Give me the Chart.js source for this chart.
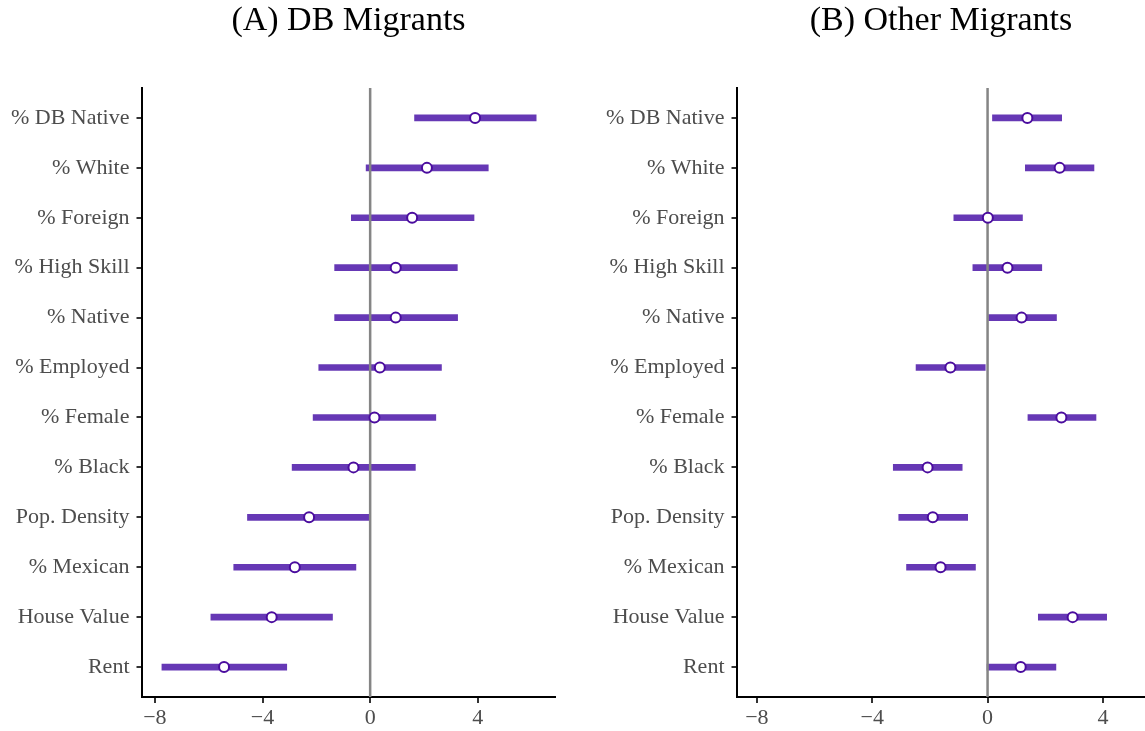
<!DOCTYPE html>
<html>
<head>
<meta charset="utf-8">
<script src="https://cdn.jsdelivr.net/npm/chart.js@4.4.1/dist/chart.umd.min.js"></script>
<style>
  html, body { margin: 0; padding: 0; background: #fff; }
  body { width: 1145px; height: 731px; position: relative; overflow: hidden; }
  .panel { position: absolute; top: 0; height: 731px; }
</style>
</head>
<body>
<div class="panel" style="left:0;width:572px"><canvas id="chartA"></canvas></div>
<div class="panel" style="left:572px;width:573px"><canvas id="chartB"></canvas></div>
<script>
// ---- data ----
const categories = ["% DB Native", "% White", "% Foreign", "% High Skill", "% Native", "% Employed",
                    "% Female", "% Black", "Pop. Density", "% Mexican", "House Value", "Rent"];
const xTicks = [-8, -4, 0, 4];

const dbEstimate = [3.90, 2.11, 1.56, 0.95, 0.95, 0.36, 0.16, -0.62, -2.27, -2.80, -3.66, -5.43];
const dbLow      = [1.65, -0.15, -0.70, -1.32, -1.32, -1.91, -2.12, -2.90, -4.56, -5.07, -5.92, -7.74];
const dbHigh     = [6.17, 4.39, 3.86, 3.24, 3.25, 2.65, 2.44, 1.68, 0.00, -0.53, -1.40, -3.10];

const otherEstimate = [1.38, 2.50, 0.01, 0.69, 1.18, -1.29, 2.56, -2.08, -1.90, -1.63, 2.95, 1.15];
const otherLow      = [0.17, 1.31, -1.17, -0.51, 0.00, -2.48, 1.40, -3.27, -3.08, -2.81, 1.76, -0.02];
const otherHigh     = [2.57, 3.69, 1.21, 1.88, 2.39, -0.08, 3.76, -0.88, -0.69, -0.42, 4.13, 2.37];

const titleA = "(A) DB Migrants";
const titleB = "(B) Other Migrants";

// ---- chart builder ----
const FONT = "'Liberation Serif', 'Times New Roman', serif";
function fmtTick(v) { return v < 0 ? "\u2212" + Math.abs(v) : String(v); }

function makeChart(id, title, est, lo, hi, xmin, xmax, yAxisWidth, padRight) {
  const n = categories.length;
  const intervals = categories.map((c, i) => ({ y: i, x: [lo[i], hi[i]] }));
  const points = categories.map((c, i) => ({ y: i, x: est[i] }));
  return new Chart(document.getElementById(id), {
    type: 'bar',
    data: {
      datasets: [
        {
          type: 'scatter',
          data: points,
          order: 1,
          pointRadius: 5,
          pointBorderWidth: 2,
          pointBackgroundColor: '#ffffff',
          pointBorderColor: '#4a0c9e',
          pointHoverRadius: 5
        },
        {
          type: 'line',
          data: [{ x: 0, y: -0.6 }, { x: 0, y: n - 0.4 }],
          order: 2,
          borderColor: '#858585',
          borderWidth: 2.5,
          pointRadius: 0,
          fill: false
        },
        {
          type: 'bar',
          indexAxis: 'y',
          data: intervals,
          order: 3,
          backgroundColor: '#6638b5',
          borderWidth: 0,
          borderSkipped: false,
          barThickness: 6
        }
      ]
    },
    options: {
      responsive: true,
      maintainAspectRatio: false,
      animation: false,
      events: [],
      layout: { autoPadding: false, padding: { left: 0, right: padRight, top: 0, bottom: 0 } },
      plugins: {
        legend: { display: false },
        tooltip: { enabled: false },
        title: {
          display: true,
          text: title,
          fullSize: false,
          color: '#000000',
          font: { family: FONT, size: 34, weight: 'normal', lineHeight: 1.1 },
          padding: { top: 2.5, bottom: 48.1 }
        }
      },
      scales: {
        x: {
          type: 'linear',
          offset: false,
          min: xmin,
          max: xmax,
          afterBuildTicks: (s) => { s.ticks = xTicks.map(v => ({ value: v })); },
          afterFit: (s) => { s.height = 34; s.paddingLeft = 0; s.paddingRight = 0; },
          ticks: {
            callback: (v) => fmtTick(v),
            color: '#4d4d4d',
            font: { family: FONT, size: 22 },
            padding: 2,
            maxRotation: 0
          },
          grid: { offset: false, drawOnChartArea: false, drawTicks: true, tickLength: 6, color: '#333333', lineWidth: 2 },
          border: { display: true, color: '#000000', width: 2 }
        },
        y: {
          type: 'linear',
          offset: false,
          reverse: true,
          min: -0.6,
          max: n - 0.4,
          afterBuildTicks: (s) => { s.ticks = categories.map((c, i) => ({ value: i })); },
          afterFit: (s) => { s.width = yAxisWidth; s.paddingTop = 0; s.paddingBottom = 0; },
          ticks: {
            autoSkip: false,
            callback: (v) => categories[v],
            color: '#4d4d4d',
            font: { family: FONT, size: 22 },
            padding: 7
          },
          grid: { offset: false, drawOnChartArea: false, drawTicks: true, tickLength: 5.5, color: '#333333', lineWidth: 2 },
          border: { display: true, color: '#000000', width: 2 }
        }
      }
    }
  });
}

makeChart('chartA', titleA, dbEstimate, dbLow, dbHigh, -8.48, 6.87, 142, 17);
makeChart('chartB', titleB, otherEstimate, otherLow, otherHigh, -8.69, 5.46, 165, 0);
</script>
</body>
</html>
